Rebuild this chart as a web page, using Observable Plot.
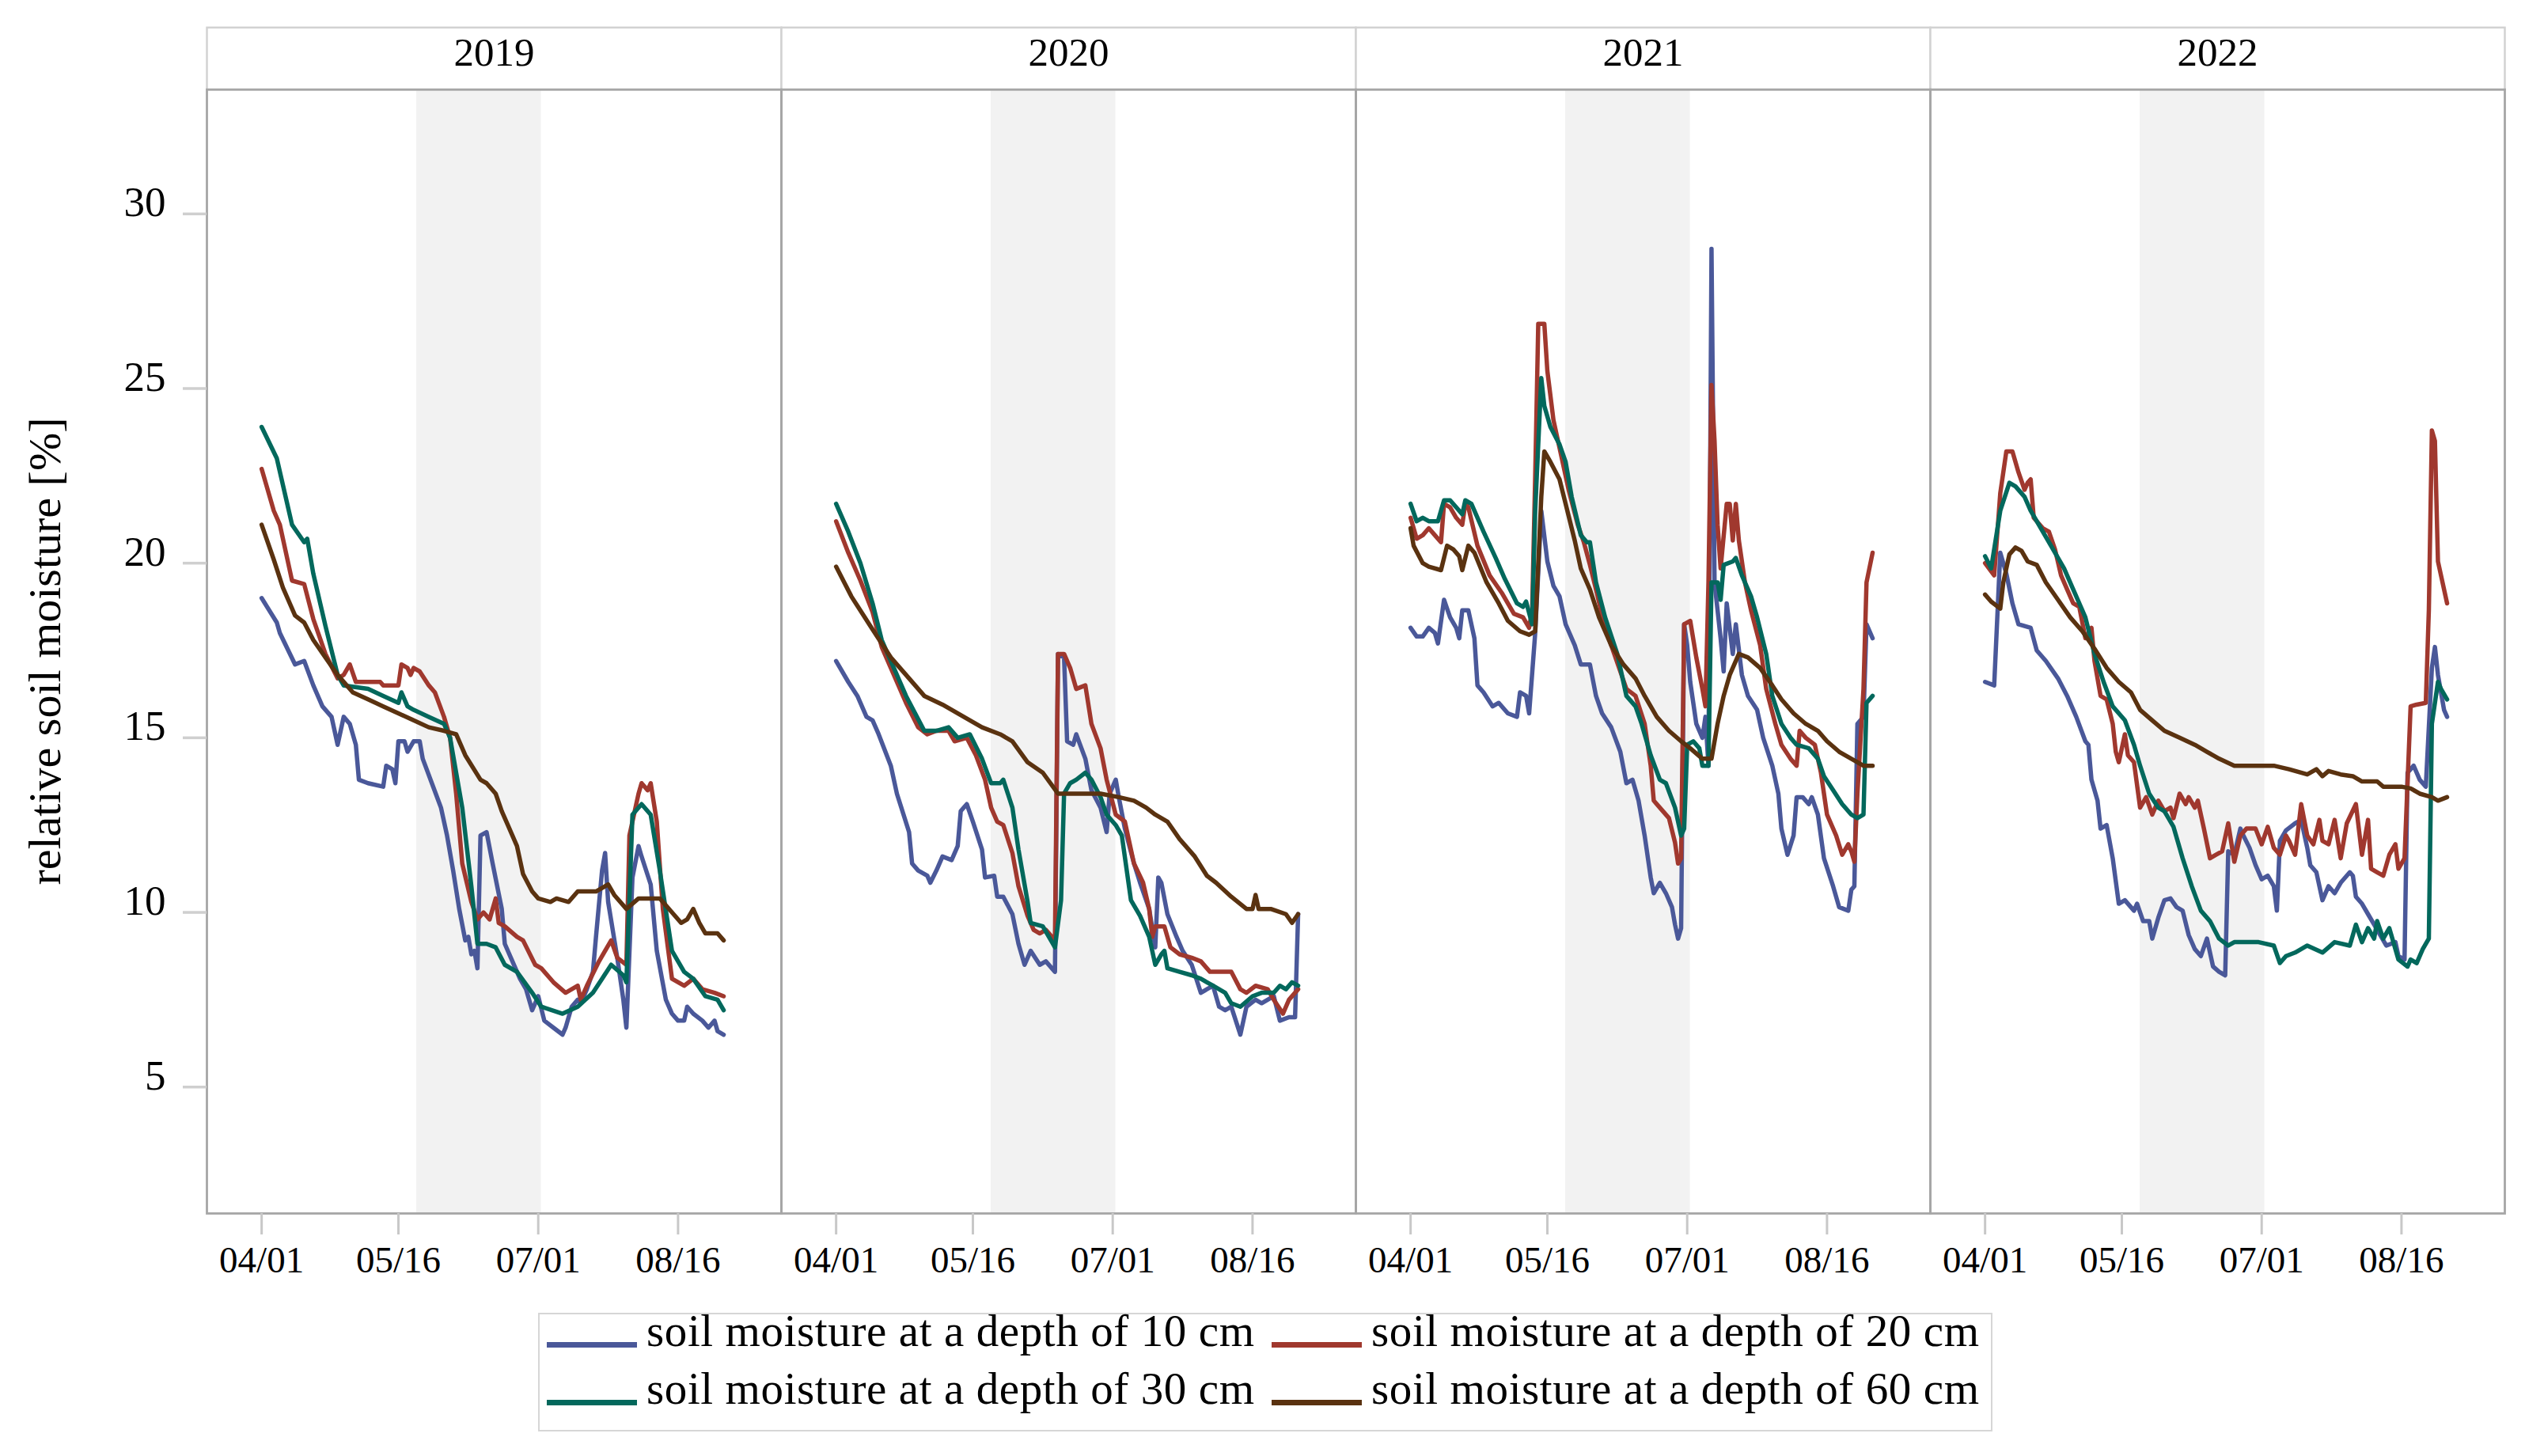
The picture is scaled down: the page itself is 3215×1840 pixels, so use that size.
<!DOCTYPE html>
<html>
<head>
<meta charset="utf-8">
<script src="https://cdn.jsdelivr.net/npm/d3@7"></script>
<script src="https://cdn.jsdelivr.net/npm/@observablehq/plot@0.6"></script>
<style>
html,body{margin:0;padding:0;background:#fff;}
#wrap{position:relative;width:3215px;height:1840px;font-family:"Liberation Serif","DejaVu Serif",serif;color:#000;}
#chart{position:absolute;left:0;top:0;}
#ylabel{position:absolute;left:56px;top:823px;transform:translate(-50%,-50%) rotate(-90deg);font-size:58px;white-space:nowrap;}
#legend{position:absolute;left:680px;top:1659px;width:1834px;height:146px;border:2px solid #d6d6d6;background:#fff;}
.item{position:absolute;font-size:57px;letter-spacing:0.6px;white-space:nowrap;line-height:57px;}
.sw{display:inline-block;width:114px;height:7px;margin-right:12px;vertical-align:baseline;position:relative;top:2px;}
</style>
</head>
<body>
<div id="wrap">
  <div id="chart"></div>
  <div id="ylabel">relative soil moisture [%]</div>
  <div id="legend"></div>
</div>
<script>
// ---------------- data ----------------
const years = [2019, 2020, 2021, 2022];
const depths = ["10 cm", "20 cm", "30 cm", "60 cm"];
const legendLabels = [
  "soil moisture at a depth of 10 cm",
  "soil moisture at a depth of 20 cm",
  "soil moisture at a depth of 30 cm",
  "soil moisture at a depth of 60 cm"
];
const colors = ["#4a5899", "#a0382e", "#03685c", "#5a3210"];
const tickLabels = ["04/01", "05/16", "07/01", "08/16"];
const yTicks = [5, 10, 15, 20, 25, 30];
const shadeDates = ["05/22", "07/02"];
const axisStartDate = "03/14";
const axisEndDate = "09/19";
const yDomain = [1.38, 33.56];

// each series: [day offset from 04/01, relative soil moisture %]
const s2019_10 = [[0,19.0],[5,18.3],[6,18.0],[11,17.1],[14,17.2],[17,16.5],[20,15.9],[23,15.6],[25,14.8],[27,15.6],[29,15.4],[31,14.8],[32,13.8],[35,13.7],[40,13.6],[41,14.2],[43,14.1],[44,13.7],[45,14.9],[47,14.9],[48,14.6],[50,14.9],[52,14.9],[53,14.4],[56,13.7],[59,13.0],[61,12.2],[63,11.2],[65,10.1],[67,9.2],[68,9.3],[69,8.8],[70,8.9],[71,8.4],[72,12.2],[74,12.3],[76,11.4],[79,10.1],[80,9.1],[82,8.7],[85,8.1],[87,7.8],[89,7.2],[91,7.6],[93,6.9],[96,6.7],[99,6.5],[100,6.7],[102,7.3],[104,7.5],[105,7.4],[107,7.8],[109,8.3],[110,9.3],[112,11.2],[113,11.7],[114,10.3],[117,8.7],[119,7.5],[120,6.7],[122,11.0],[124,11.9],[125,11.6],[128,10.8],[130,8.9],[133,7.5],[135,7.1],[137,6.9],[139,6.9],[140,7.3],[142,7.1],[145,6.9],[147,6.7],[149,6.9],[150,6.6],[152,6.5]];
const s2019_20 = [[0,22.7],[4,21.5],[6,21.1],[10,19.5],[14,19.4],[17,18.4],[21,17.4],[25,16.7],[27,16.8],[29,17.1],[31,16.6],[39,16.6],[40,16.5],[45,16.5],[46,17.1],[48,17.0],[49,16.8],[50,17.0],[52,16.9],[55,16.5],[57,16.3],[60,15.6],[62,15.0],[64,13.4],[66,11.4],[69,10.3],[71,9.8],[73,10.0],[75,9.8],[77,10.4],[78,9.7],[80,9.6],[84,9.3],[86,9.2],[90,8.5],[92,8.4],[96,8.0],[100,7.7],[104,7.9],[105,7.5],[107,7.9],[111,8.6],[115,9.2],[117,8.7],[120,8.5],[121,12.2],[124,13.4],[125,13.7],[127,13.5],[128,13.7],[130,12.6],[132,10.1],[135,8.1],[139,7.9],[142,8.1],[145,7.8],[149,7.7],[152,7.6]];
const s2019_30 = [[0,23.9],[5,23.0],[10,21.1],[14,20.6],[15,20.7],[17,19.7],[21,18.2],[25,16.8],[27,16.5],[35,16.4],[40,16.2],[45,16.0],[46,16.3],[48,15.9],[50,15.8],[55,15.6],[60,15.4],[62,15.0],[66,13.0],[69,10.75],[71,9.1],[74,9.1],[77,9.0],[80,8.5],[84,8.3],[89,7.7],[92,7.3],[99,7.1],[104,7.3],[109,7.7],[112,8.1],[115,8.5],[119,8.2],[120,8.0],[122,12.8],[125,13.1],[128,12.8],[131,11.2],[135,8.9],[139,8.3],[142,8.1],[146,7.6],[150,7.5],[152,7.2]];
const s2019_60 = [[0,21.1],[4,20.1],[7,19.3],[11,18.5],[14,18.3],[17,17.8],[21,17.3],[25,16.8],[30,16.3],[35,16.1],[40,15.9],[45,15.7],[50,15.5],[55,15.3],[60,15.2],[64,15.1],[67,14.5],[72,13.8],[74,13.7],[77,13.4],[79,12.9],[81,12.5],[84,11.9],[86,11.1],[89,10.6],[91,10.4],[95,10.3],[97,10.4],[101,10.3],[104,10.6],[110,10.6],[114,10.8],[116,10.5],[120,10.1],[124,10.4],[131,10.4],[135,10.0],[138,9.7],[140,9.8],[142,10.1],[144,9.7],[146,9.4],[150,9.4],[152,9.2]];

const s2020_10 = [[0,17.2],[4,16.6],[7,16.2],[10,15.6],[12,15.5],[14,15.1],[18,14.2],[20,13.4],[24,12.3],[25,11.4],[27,11.2],[30,11.05],[31,10.85],[33,11.2],[35,11.6],[38,11.5],[40,11.9],[41,12.9],[43,13.1],[45,12.6],[48,11.8],[49,11.0],[52,11.05],[53,10.45],[55,10.45],[58,9.95],[60,9.1],[62,8.5],[64,8.9],[67,8.5],[69,8.6],[72,8.3],[73,17.4],[75,17.3],[76,14.9],[78,14.8],[79,15.1],[82,14.4],[84,13.5],[87,13.0],[89,12.3],[90,13.4],[92,13.8],[93,13.3],[95,12.4],[98,11.4],[100,10.85],[103,10.1],[105,9.0],[106,11.0],[107,10.85],[109,9.95],[112,9.3],[114,8.9],[117,8.5],[120,7.7],[124,7.9],[126,7.3],[128,7.2],[130,7.3],[133,6.5],[135,7.3],[138,7.5],[140,7.4],[144,7.6],[146,6.9],[149,7.0],[151,7.0],[152,9.95]];
const s2020_20 = [[0,21.2],[4,20.3],[8,19.5],[12,18.6],[15,17.6],[19,16.8],[23,16.0],[27,15.3],[30,15.1],[33,15.2],[37,15.2],[39,14.9],[43,15.0],[46,14.5],[49,13.8],[51,13.0],[53,12.6],[55,12.5],[58,11.7],[60,10.75],[63,9.9],[65,9.5],[67,9.4],[69,9.5],[72,9.2],[73,17.4],[75,17.4],[77,17.0],[79,16.4],[82,16.5],[84,15.4],[87,14.7],[89,13.8],[92,12.8],[95,12.6],[98,11.4],[101,10.85],[103,10.1],[104,9.3],[105,9.6],[108,9.6],[110,9.0],[113,8.8],[117,8.7],[120,8.6],[123,8.3],[130,8.3],[133,7.8],[135,7.7],[138,7.9],[142,7.8],[144,7.5],[147,7.1],[149,7.5],[152,7.8]];
const s2020_30 = [[0,21.7],[4,20.9],[8,20.0],[12,18.85],[15,17.8],[19,17.0],[23,16.2],[26,15.7],[29,15.2],[33,15.2],[37,15.3],[40,15.0],[44,15.1],[48,14.4],[51,13.7],[54,13.7],[55,13.8],[58,13.0],[60,11.8],[63,10.3],[64,9.7],[68,9.6],[70,9.3],[72,9.0],[74,10.35],[75,13.4],[77,13.7],[79,13.8],[82,14.0],[84,13.8],[87,13.3],[89,12.8],[92,12.5],[94,12.2],[97,10.35],[100,9.9],[103,9.3],[105,8.5],[107,8.8],[108,8.9],[109,8.4],[113,8.3],[117,8.2],[120,8.1],[124,7.9],[128,7.7],[130,7.4],[133,7.3],[137,7.6],[140,7.7],[144,7.7],[146,7.9],[148,7.8],[150,8.0],[152,7.9]];
const s2020_60 = [[0,19.9],[5,19.05],[12,18.1],[18,17.3],[23,16.8],[29,16.2],[35,15.95],[42,15.6],[48,15.3],[54,15.1],[58,14.9],[63,14.3],[68,14.0],[73,13.4],[79,13.4],[87,13.4],[93,13.3],[98,13.2],[102,13.0],[105,12.8],[109,12.6],[113,12.1],[118,11.6],[122,11.05],[125,10.85],[130,10.45],[135,10.1],[137,10.1],[138,10.5],[139,10.1],[143,10.1],[148,9.95],[150,9.7],[152,9.95]];

const s2021_10 = [[0,18.15],[2,17.9],[4,17.9],[6,18.15],[8,18.0],[9,17.7],[11,18.95],[13,18.45],[15,18.15],[16,17.85],[17,18.65],[19,18.65],[21,17.85],[22,16.5],[24,16.3],[27,15.9],[29,16.0],[32,15.7],[35,15.6],[36,16.3],[38,16.2],[39,15.7],[41,18.0],[43,21.5],[45,20.05],[47,19.35],[49,19.05],[51,18.25],[54,17.65],[56,17.1],[59,17.1],[61,16.2],[63,15.7],[66,15.3],[69,14.6],[71,13.7],[73,13.8],[75,13.2],[77,12.2],[79,11.0],[80,10.55],[82,10.85],[84,10.55],[86,10.15],[87,9.65],[88,9.25],[89,9.55],[90,18.25],[91,17.65],[92,16.6],[94,15.4],[96,15.0],[97,15.6],[98,14.2],[99,29.0],[100,19.45],[102,17.85],[103,16.9],[104,18.85],[106,17.4],[107,18.25],[109,16.8],[111,16.2],[114,15.8],[116,15.0],[119,14.2],[121,13.4],[122,12.4],[124,11.65],[126,12.2],[127,13.3],[129,13.3],[131,13.1],[132,13.3],[134,12.8],[136,11.55],[139,10.75],[141,10.15],[144,10.05],[145,10.65],[146,10.75],[147,15.4],[149,15.6],[150,18.25],[152,17.85]];
const s2021_20 = [[0,21.3],[2,20.7],[4,20.8],[6,21.0],[8,20.8],[10,20.6],[11,21.7],[13,21.6],[15,21.3],[17,21.1],[18,21.7],[19,21.6],[22,20.5],[26,19.65],[30,19.15],[34,18.55],[37,18.45],[39,18.15],[40,18.65],[41,22.5],[42,26.85],[44,26.85],[45,25.5],[47,24.1],[49,23.3],[52,22.1],[55,21.1],[57,20.6],[59,19.95],[61,19.25],[64,18.15],[67,17.4],[71,16.4],[74,16.2],[77,15.4],[79,14.2],[80,13.2],[82,13.0],[85,12.7],[87,12.0],[88,11.4],[89,11.55],[90,18.25],[92,18.35],[94,17.3],[96,16.4],[97,15.9],[98,19.45],[99,25.1],[100,23.5],[101,21.1],[102,19.85],[104,21.7],[105,21.7],[106,20.65],[107,21.7],[108,20.65],[110,19.45],[112,18.65],[115,17.65],[117,16.4],[120,15.4],[122,14.8],[125,14.4],[127,14.2],[128,15.2],[130,15.0],[133,14.8],[135,14.0],[137,12.8],[140,12.2],[142,11.65],[144,11.95],[145,11.75],[146,11.45],[147,13.4],[149,16.4],[150,19.45],[152,20.3]];
const s2021_30 = [[0,21.7],[2,21.2],[4,21.3],[6,21.2],[9,21.2],[11,21.8],[13,21.8],[15,21.6],[17,21.4],[18,21.8],[20,21.7],[24,20.9],[28,20.15],[31,19.55],[35,18.85],[37,18.75],[38,18.9],[40,18.25],[41,21.5],[43,25.3],[44,24.5],[46,23.9],[49,23.4],[51,22.9],[53,21.9],[56,20.8],[58,20.6],[59,20.6],[61,19.45],[64,18.45],[68,17.4],[71,16.2],[74,15.9],[76,15.4],[79,14.5],[82,13.8],[84,13.7],[87,13.0],[89,12.2],[90,12.4],[91,14.8],[93,14.9],[95,14.7],[96,14.2],[98,14.2],[99,19.45],[101,19.45],[102,18.95],[103,19.95],[106,20.05],[107,20.15],[109,19.65],[112,19.05],[114,18.45],[117,17.4],[119,16.2],[122,15.4],[125,15.0],[127,14.8],[131,14.7],[134,14.4],[136,13.9],[139,13.5],[142,13.1],[145,12.8],[147,12.7],[149,12.8],[150,16.0],[152,16.2]];
const s2021_60 = [[0,21.0],[1,20.5],[4,20.0],[6,19.9],[10,19.8],[12,20.5],[14,20.4],[16,20.2],[17,19.8],[19,20.5],[21,20.3],[25,19.45],[29,18.85],[32,18.35],[36,18.05],[39,17.95],[41,18.05],[43,21.9],[44,23.2],[46,22.9],[49,22.4],[51,21.7],[54,20.65],[56,19.85],[59,19.25],[62,18.45],[66,17.65],[70,17.1],[74,16.7],[77,16.2],[81,15.6],[85,15.2],[89,14.9],[92,14.7],[96,14.4],[99,14.4],[101,15.4],[103,16.2],[105,16.8],[108,17.4],[111,17.3],[115,17.0],[119,16.5],[122,16.1],[126,15.7],[130,15.4],[134,15.2],[137,14.9],[141,14.6],[145,14.4],[149,14.2],[152,14.2]];

const s2022_10 = [[0,16.6],[3,16.5],[5,20.3],[7,19.7],[9,18.85],[11,18.25],[15,18.15],[17,17.5],[20,17.2],[24,16.7],[27,16.2],[30,15.6],[33,14.9],[34,14.8],[35,13.8],[37,13.2],[38,12.4],[40,12.5],[42,11.55],[44,10.25],[46,10.35],[49,10.05],[50,10.25],[52,9.75],[54,9.75],[55,9.25],[57,9.85],[59,10.35],[61,10.4],[63,10.15],[65,10.05],[67,9.35],[69,8.95],[71,8.75],[73,9.25],[75,8.45],[77,8.3],[79,8.2],[80,11.75],[82,11.65],[84,12.4],[85,12.2],[87,11.85],[89,11.35],[91,10.95],[93,11.05],[95,10.75],[96,10.05],[97,12.05],[99,12.35],[102,12.55],[104,12.65],[106,11.85],[107,11.35],[109,11.15],[111,10.35],[113,10.75],[115,10.55],[117,10.85],[120,11.15],[121,11.05],[122,10.45],[124,10.25],[126,9.95],[128,9.65],[130,9.35],[132,9.05],[135,9.15],[136,8.75],[138,8.65],[139,14.0],[141,14.2],[143,13.8],[145,13.6],[147,17.0],[148,17.6],[149,16.8],[151,15.8],[152,15.6]];
const s2022_20 = [[0,20.0],[3,19.65],[5,22.0],[7,23.2],[9,23.2],[11,22.6],[13,22.1],[14,22.3],[15,22.4],[16,21.3],[19,21.0],[21,20.9],[23,20.4],[25,19.65],[27,19.25],[29,18.85],[31,18.75],[33,17.85],[35,18.15],[36,17.2],[38,16.2],[40,16.1],[42,15.4],[43,14.6],[44,14.3],[46,15.1],[47,14.5],[49,14.3],[51,13.0],[53,13.3],[55,12.8],[57,13.2],[59,12.9],[61,13.0],[62,12.7],[64,13.4],[66,13.1],[67,13.3],[69,13.0],[70,13.2],[72,12.4],[74,11.55],[76,11.65],[78,11.75],[80,12.55],[82,11.45],[84,12.2],[86,12.4],[89,12.4],[91,11.95],[93,12.45],[95,11.85],[97,11.65],[99,12.2],[100,12.05],[102,11.65],[104,13.1],[106,12.2],[108,11.95],[110,12.65],[111,12.05],[113,11.95],[115,12.65],[117,11.55],[119,12.55],[122,13.1],[124,11.65],[126,12.65],[127,11.25],[129,11.15],[131,11.05],[133,11.65],[135,11.95],[136,11.25],[138,11.55],[140,15.9],[142,15.95],[145,16.0],[146,18.65],[147,23.8],[148,23.5],[149,20.05],[152,18.85]];
const s2022_30 = [[0,20.2],[2,19.85],[5,21.5],[8,22.3],[10,22.2],[13,21.9],[15,21.5],[19,20.9],[23,20.3],[26,19.85],[29,19.25],[33,18.45],[36,17.4],[39,16.6],[42,15.9],[46,15.5],[49,14.8],[51,14.2],[54,13.4],[57,13.0],[59,12.9],[62,12.45],[65,11.55],[68,10.75],[71,10.05],[74,9.75],[77,9.25],[80,9.05],[82,9.15],[90,9.15],[95,9.05],[97,8.55],[99,8.75],[102,8.85],[106,9.05],[111,8.85],[115,9.15],[120,9.05],[122,9.65],[124,9.15],[126,9.55],[128,9.25],[129,9.75],[131,9.25],[133,9.55],[136,8.65],[139,8.45],[140,8.65],[142,8.55],[144,8.95],[146,9.25],[147,15.4],[149,16.6],[150,16.4],[152,16.1]];
const s2022_60 = [[0,19.1],[2,18.9],[5,18.7],[6,19.45],[8,20.25],[10,20.45],[12,20.35],[14,20.05],[17,19.95],[20,19.45],[24,18.95],[28,18.45],[32,18.05],[36,17.55],[40,17.0],[44,16.6],[48,16.3],[51,15.8],[55,15.5],[59,15.2],[64,15.0],[69,14.8],[73,14.6],[77,14.4],[82,14.2],[89,14.2],[95,14.2],[100,14.1],[106,13.95],[109,14.1],[111,13.9],[113,14.05],[117,13.95],[121,13.9],[124,13.75],[129,13.75],[131,13.6],[137,13.6],[140,13.55],[143,13.4],[147,13.3],[149,13.2],[152,13.3]];

const seriesByYear = {
  2019: [s2019_10, s2019_20, s2019_30, s2019_60],
  2020: [s2020_10, s2020_20, s2020_30, s2020_60],
  2021: [s2021_10, s2021_20, s2021_30, s2021_60],
  2022: [s2022_10, s2022_20, s2022_30, s2022_60]
};

// ---------------- helpers ----------------
const refYear = 2021; // month/day calendar used for the shared x axis
const origin = Date.UTC(refYear, 3, 1);
function dayOf(md) {
  const [m, d] = md.split("/").map(Number);
  return Math.round((Date.UTC(refYear, m - 1, d) - origin) / 864e5);
}
const tickDays = tickLabels.map(dayOf);
const shadeRows = years.map(y => ({year: y, x1: dayOf(shadeDates[0]), x2: dayOf(shadeDates[1])}));

const rows = [];
years.forEach(y => {
  seriesByYear[y].forEach((s, k) => {
    s.forEach(([day, v]) => rows.push({year: y, depth: depths[k], day, value: v}));
  });
});

// ---------------- chart ----------------
const W = 3215, H = 1650;
const plotTop = 112.7, plotBottom = 1533, headerTop = 34.3;

const lineMarks = depths.map(dep =>
  Plot.line(rows.filter(r => r.depth === dep), {
    x: "day", y: "value", fx: "year", stroke: "depth",
    strokeWidth: 5.5, strokeLinejoin: "round", strokeLinecap: "round"
  })
);

const chart = Plot.plot({
  width: W,
  height: H,
  marginLeft: 259,
  marginRight: W - 3166,
  marginTop: plotTop,
  marginBottom: H - plotBottom,
  style: {fontFamily: '"Liberation Serif", "DejaVu Serif", serif', background: "white", color: "black", overflow: "visible"},
  fx: {axis: null, padding: 0, domain: years},
  x: {domain: [dayOf(axisStartDate), dayOf(axisEndDate)]},
  y: {domain: yDomain},
  color: {domain: depths, range: colors},
  marks: [
    Plot.rect(shadeRows, {fx: "year", x1: "x1", x2: "x2", fill: "#f2f2f2"}),
    Plot.frame({insetTop: -(plotTop - headerTop), insetBottom: plotBottom - plotTop, stroke: "#d2d2d2", strokeWidth: 2.5, fill: "white"}),
    ...lineMarks,
    Plot.frame({stroke: "#a6a6a6", strokeWidth: 2.8}),
    Plot.axisX({
      ticks: tickDays,
      tickFormat: d => tickLabels[tickDays.indexOf(d)],
      tickSize: 27, tickPadding: 14, fontSize: 47,
      stroke: "#c8c8c8", strokeWidth: 3, fill: "black", label: null
    }),
    // y tick marks
    Plot.axisY({
      ticks: yTicks, tickSize: 30, tickFormat: () => "",
      stroke: "#cfcfcf", strokeWidth: 3.5, label: null
    }),
    // y tick labels (sit slightly above their ticks, as in the original)
    Plot.axisY({
      ticks: yTicks, tickSize: 0, tickPadding: 52, dy: -14, fontSize: 53,
      fill: "black", label: null
    }),
    Plot.text(years, {fx: d => d, text: d => String(d), frameAnchor: "top", dy: -(plotTop - 66.5), fontSize: 51, lineAnchor: "middle", fill: "black"})
  ]
});
document.getElementById("chart").appendChild(chart);

// ---------------- legend ----------------
const legend = document.getElementById("legend");
const pos = [[9, -8], [925, -8], [9, 65], [925, 65]];
legendLabels.forEach((lab, i) => {
  const it = document.createElement("div");
  it.className = "item";
  it.style.left = pos[i][0] + "px";
  it.style.top = pos[i][1] + "px";
  const sw = document.createElement("span");
  sw.className = "sw";
  sw.style.background = colors[i];
  it.appendChild(sw);
  it.appendChild(document.createTextNode(lab));
  legend.appendChild(it);
});
</script>
</body>
</html>
